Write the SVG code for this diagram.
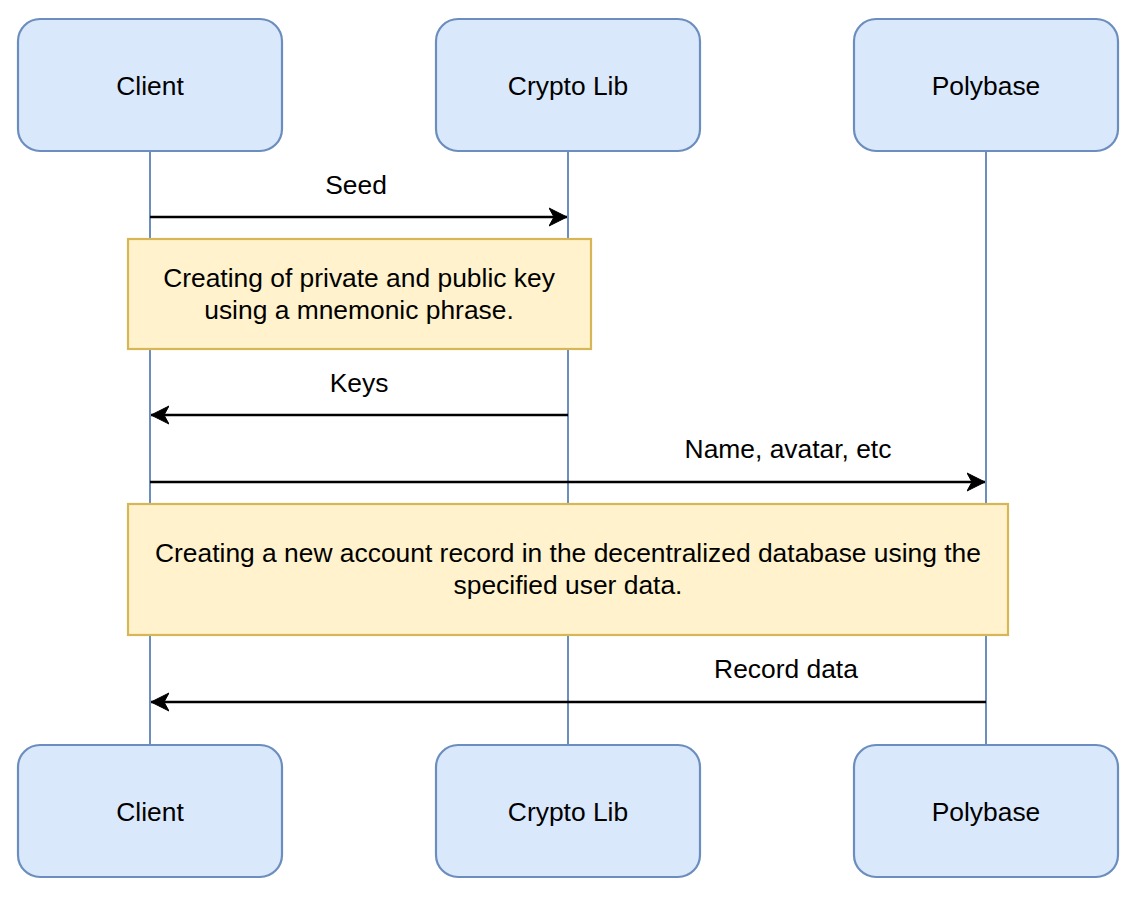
<svg xmlns="http://www.w3.org/2000/svg" width="1138" height="902" viewBox="0 0 1138 902">
<style>
text{font-family:"Liberation Sans",Arial,Helvetica,sans-serif;font-size:26.4px;fill:#000;text-anchor:middle}
.actor{fill:#dae8fc;stroke:#6c8ebf;stroke-width:2.2}
.life{stroke:#6c8ebf;stroke-width:2;fill:none}
.note{fill:#fff2cc;stroke:#d6b656;stroke-width:2.2}
.msg{stroke:#000;stroke-width:2.4;fill:none}
</style>
<defs>
<marker id="arr" viewBox="0 0 20 20" refX="18" refY="10" markerWidth="20" markerHeight="20" markerUnits="userSpaceOnUse" orient="auto">
<path d="M18,10 L0,1 L5,10 L0,19 Z" fill="#000" stroke="#000" stroke-width="1"/>
</marker>
</defs>
<rect width="1138" height="902" fill="#fff"/>
<g id="lifelines">
<line class="life" x1="150" y1="151" x2="150" y2="745"/>
<line class="life" x1="568" y1="151" x2="568" y2="745"/>
<line class="life" x1="986" y1="151" x2="986" y2="745"/>
</g>
<g id="connectors">
<g id="msg-seed"><line class="msg" x1="150" y1="217" x2="567" y2="217" marker-end="url(#arr)"/><text x="356" y="194">Seed</text></g>
<g id="msg-keys"><line class="msg" x1="568" y1="415" x2="151" y2="415" marker-end="url(#arr)"/><text x="359" y="392">Keys</text></g>
<g id="msg-name"><line class="msg" x1="150" y1="482" x2="985" y2="482" marker-end="url(#arr)"/><text x="788" y="458">Name, avatar, etc</text></g>
<g id="msg-record"><line class="msg" x1="986" y1="702" x2="151" y2="702" marker-end="url(#arr)"/><text x="786" y="678">Record data</text></g>
</g>
<g id="client-top"><rect class="actor" x="18" y="19" width="264" height="132" rx="22"/><text x="150" y="95">Client</text></g>
<g id="crypto-top"><rect class="actor" x="436" y="19" width="264" height="132" rx="22"/><text x="568" y="95">Crypto Lib</text></g>
<g id="polybase-top"><rect class="actor" x="854" y="19" width="264" height="132" rx="22"/><text x="986" y="95">Polybase</text></g>
<g id="note-keys"><rect class="note" x="128" y="239" width="463" height="110"/><text x="359" y="287">Creating of private and public key</text><text x="359" y="319">using a mnemonic phrase.</text></g>
<g id="note-record"><rect class="note" x="128" y="504" width="880" height="131"/><text x="568" y="562">Creating a new account record in the decentralized database using the</text><text x="568" y="594">specified user data.</text></g>
<g id="client-bottom"><rect class="actor" x="18" y="745" width="264" height="132" rx="22"/><text x="150" y="821">Client</text></g>
<g id="crypto-bottom"><rect class="actor" x="436" y="745" width="264" height="132" rx="22"/><text x="568" y="821">Crypto Lib</text></g>
<g id="polybase-bottom"><rect class="actor" x="854" y="745" width="264" height="132" rx="22"/><text x="986" y="821">Polybase</text></g>
</svg>
